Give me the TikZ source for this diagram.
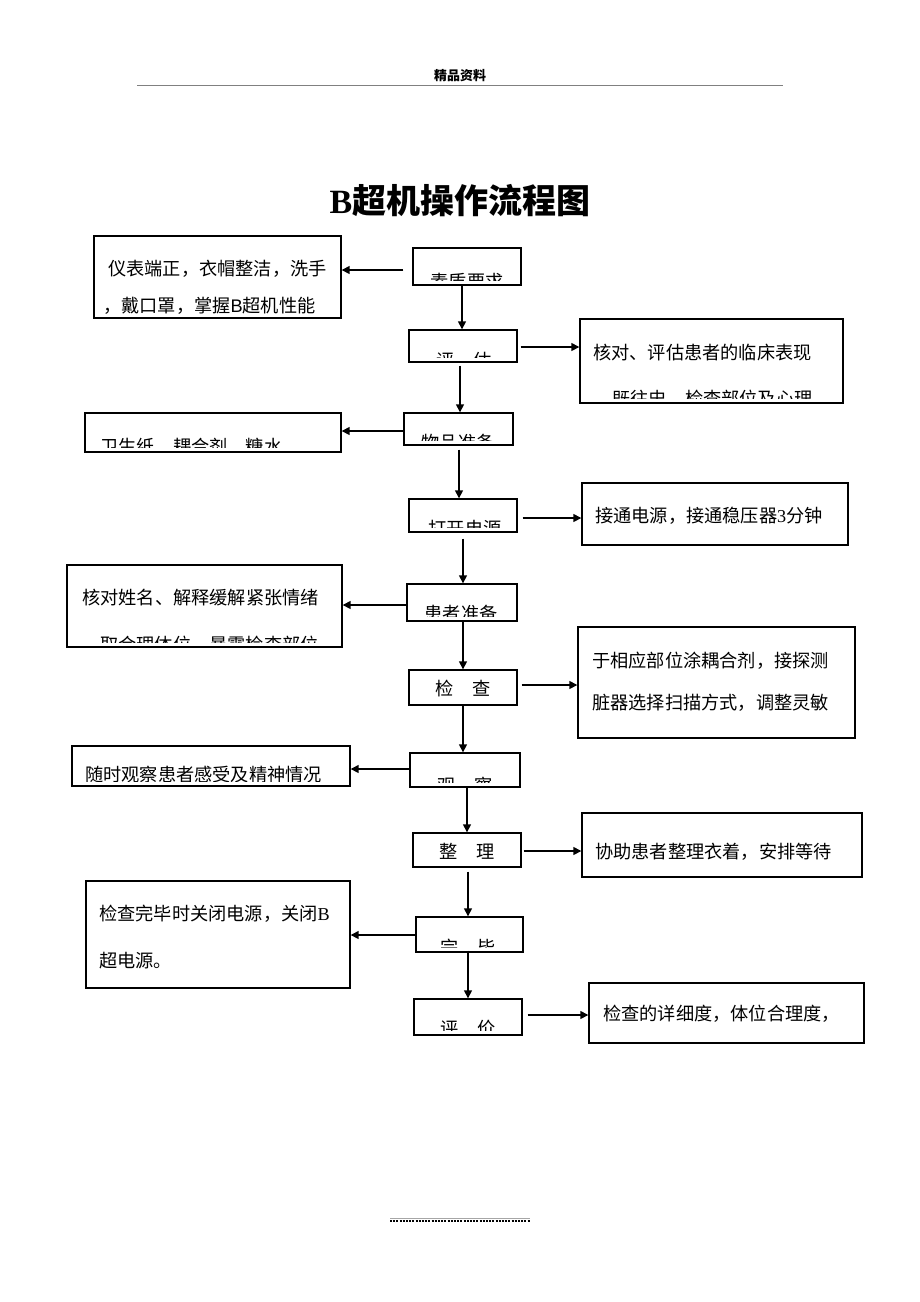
\documentclass[tikz,border=0pt]{standalone}
\usepackage{fontspec}
\setmainfont{Liberation Serif}
\newfontfamily\cjk{Noto Sans CJK SC}
\newfontfamily\arl{Liberation Sans}
\usetikzlibrary{arrows.meta}
\tikzset{
  box/.style={draw, line width=1.4pt, inner sep=0pt, rectangle},
  arr/.style={line width=1.5pt, -{Triangle[length=8pt,width=8pt]}},
  txt/.style={inner sep=0pt, font=\cjk\fontsize{18.2}{20}\selectfont},
}
\newcommand\bx[5]{\node[box, minimum width={(#4-#2)*1pt}, minimum height={(#5-#3)*1pt}] (#1) at ({(#2+#4)/2},{(#3+#5)/2}) {};}
\newcommand\clipin[1]{\clip ([shift={(4pt,-4pt)}]#1.north west) rectangle ([shift={(-4pt,5.5pt)}]#1.south east);}
\begin{document}
\begin{tikzpicture}[x=1pt,y=-1pt]
\useasboundingbox (0,0) rectangle (920,1302);
% header
\node[inner sep=0pt, anchor=base] (hdr) at (460,80) {\cjk\bfseries\fontsize{13}{15}\selectfont 精品资料};
\draw[gray, line width=1pt] (137,85) -- (783,85);
% title
\node[inner sep=0pt, anchor=base] (title) at (460,213) {\fontsize{34}{40}\selectfont\bfseries B\cjk 超机操作流程图};
% centre boxes
\bx{c1}{413}{248}{521}{285}
\bx{c2}{409}{330}{517}{362}
\bx{c3}{404}{413}{513}{445}
\bx{c4}{409}{499}{517}{532}
\bx{c5}{407}{584}{517}{621}
\bx{c6}{409}{670}{517}{705}
\bx{c7}{410}{753}{520}{787}
\bx{c8}{413}{833}{521}{867}
\bx{c9}{416}{917}{523}{952}
\bx{c10}{414}{999}{522}{1035}
% left boxes
\bx{L1}{94}{236}{341}{318}
\bx{L2}{85}{413}{341}{452}
\bx{L3}{67}{565}{342}{647}
\bx{L4}{72}{746}{350}{786}
\bx{L5}{86}{881}{350}{988}
% right boxes
\bx{R1}{580}{319}{843}{403}
\bx{R2}{582}{483}{848}{545}
\bx{R3}{578}{627}{855}{738}
\bx{R4}{582}{813}{862}{877}
\bx{R5}{589}{983}{864}{1043}
% centre texts
\begin{scope}\clipin{c1}\node[txt, anchor=base] (t1) at (467,288) {素质要求};\end{scope}
\begin{scope}\clipin{c2}\node[txt, anchor=base] (t2) at (464,367) {评\hspace{1em}估};\end{scope}
\begin{scope}\clipin{c3}\node[txt, anchor=base] (t3) at (458,449) {物品准备};\end{scope}
\begin{scope}\clipin{c4}\node[txt, anchor=base] (t4) at (465,535) {打开电源};\end{scope}
\begin{scope}\clipin{c5}\node[txt, anchor=base] (t5) at (461,620) {患者准备};\end{scope}
\begin{scope}\clipin{c6}\node[txt, anchor=base] (t6) at (463,695) {检\hspace{1em}查};\end{scope}
\begin{scope}\clipin{c7}\node[txt, anchor=base] (t7) at (465,792) {观\hspace{1em}察};\end{scope}
\begin{scope}\clipin{c8}\node[txt, anchor=base] (t8) at (467,858) {整\hspace{1em}理};\end{scope}
\begin{scope}\clipin{c9}\node[txt, anchor=base] (t9) at (468,954) {完\hspace{1em}毕};\end{scope}
\begin{scope}\clipin{c10}\node[txt, anchor=base] (t10) at (468,1035) {评\hspace{1em}价};\end{scope}
% left texts
\begin{scope}\clipin{L1}
\node[txt, anchor=base west] (l1a) at (108,275) {仪表端正，衣帽整洁，洗手};
\node[txt, anchor=base west] (l1b) at (103,312) {，戴口罩，掌握{\arl B}超机性能};
\end{scope}
\begin{scope}\clipin{L2}\node[txt, anchor=base west] (l2) at (100,453) {卫生纸、耦合剂、糖水};\end{scope}
\begin{scope}\clipin{L3}
\node[txt, anchor=base west] (l3a) at (82,604) {核对姓名、解释缓解紧张情绪};
\node[txt, anchor=base west] (l3b) at (100,651) {取合理体位，暴露检查部位};
\end{scope}
\begin{scope}\clipin{L4}\node[txt, anchor=base west] (l4) at (85,781) {随时观察患者感受及精神情况};\end{scope}
\begin{scope}\clipin{L5}
\node[txt, anchor=base west] (l5a) at (99,920) {检查完毕时关闭电源，关闭{\rmfamily B}};
\node[txt, anchor=base west] (l5b) at (99,967) {超电源。};
\end{scope}
% right texts
\begin{scope}\clipin{R1}
\node[txt, anchor=base west] (r1a) at (593,359) {核对、评估患者的临床表现};
\node[txt, anchor=base west] (r1b) at (612,405) {既往史、检查部位及心理};
\end{scope}
\begin{scope}\clipin{R2}\node[txt, anchor=base west] (r2) at (595,522) {接通电源，接通稳压器{\rmfamily 3}分钟};\end{scope}
\begin{scope}\clipin{R3}
\node[txt, anchor=base west] (r3a) at (592,667) {于相应部位涂耦合剂，接探测};
\node[txt, anchor=base west] (r3b) at (592,709) {脏器选择扫描方式，调整灵敏};
\end{scope}
\begin{scope}\clipin{R4}\node[txt, anchor=base west] (r4) at (595,858) {协助患者整理衣着，安排等待};\end{scope}
\begin{scope}\clipin{R5}\node[txt, anchor=base west] (r5) at (603,1020) {检查的详细度，体位合理度，};\end{scope}
% vertical arrows
\draw[arr] (c1.south -| 462,0) -- (c2.north -| 462,0);
\draw[arr, shorten <=3pt] (c2.south -| 460,0) -- (c3.north -| 460,0);
\draw[arr, shorten <=4pt] (c3.south -| 459,0) -- (c4.north -| 459,0);
\draw[arr, shorten <=6pt] (c4.south -| 463,0) -- (c5.north -| 463,0);
\draw[arr] (c5.south -| 463,0) -- (c6.north -| 463,0);
\draw[arr] (c6.south -| 463,0) -- (c7.north -| 463,0);
\draw[arr] (c7.south -| 467,0) -- (c8.north -| 467,0);
\draw[arr, shorten <=4pt] (c8.south -| 468,0) -- (c9.north -| 468,0);
\draw[arr, shorten <=-2pt] (c9.south -| 468,0) -- (c10.north -| 468,0);
% horizontal arrows
\draw[arr, shorten <=9pt] (c1.west |- 0,270) -- (L1.east |- 0,270);
\draw[arr, shorten <=3pt] (c2.east |- 0,347) -- (R1.west |- 0,347);
\draw[arr] (c3.west |- 0,431) -- (L2.east |- 0,431);
\draw[arr, shorten <=5pt] (c4.east |- 0,518) -- (R2.west |- 0,518);
\draw[arr] (c5.west |- 0,605) -- (L3.east |- 0,605);
\draw[arr, shorten <=4pt] (c6.east |- 0,685) -- (R3.west |- 0,685);
\draw[arr] (c7.west |- 0,769) -- (L4.east |- 0,769);
\draw[arr, shorten <=2pt] (c8.east |- 0,851) -- (R4.west |- 0,851);
\draw[arr] (c9.west |- 0,935) -- (L5.east |- 0,935);
\draw[arr, shorten <=5pt] (c10.east |- 0,1015) -- (R5.west |- 0,1015);
% footer
\coordinate (f1) at (390,1218);
\coordinate (f2) at (530,1218);
\draw[gray!70, line width=0.8pt] (f1) -- (f2);
\draw[line width=2pt, dash pattern=on 2pt off 1.2pt] ([yshift=-2.5pt]f1) -- ([yshift=-2.5pt]f2);
\end{tikzpicture}
\end{document}
